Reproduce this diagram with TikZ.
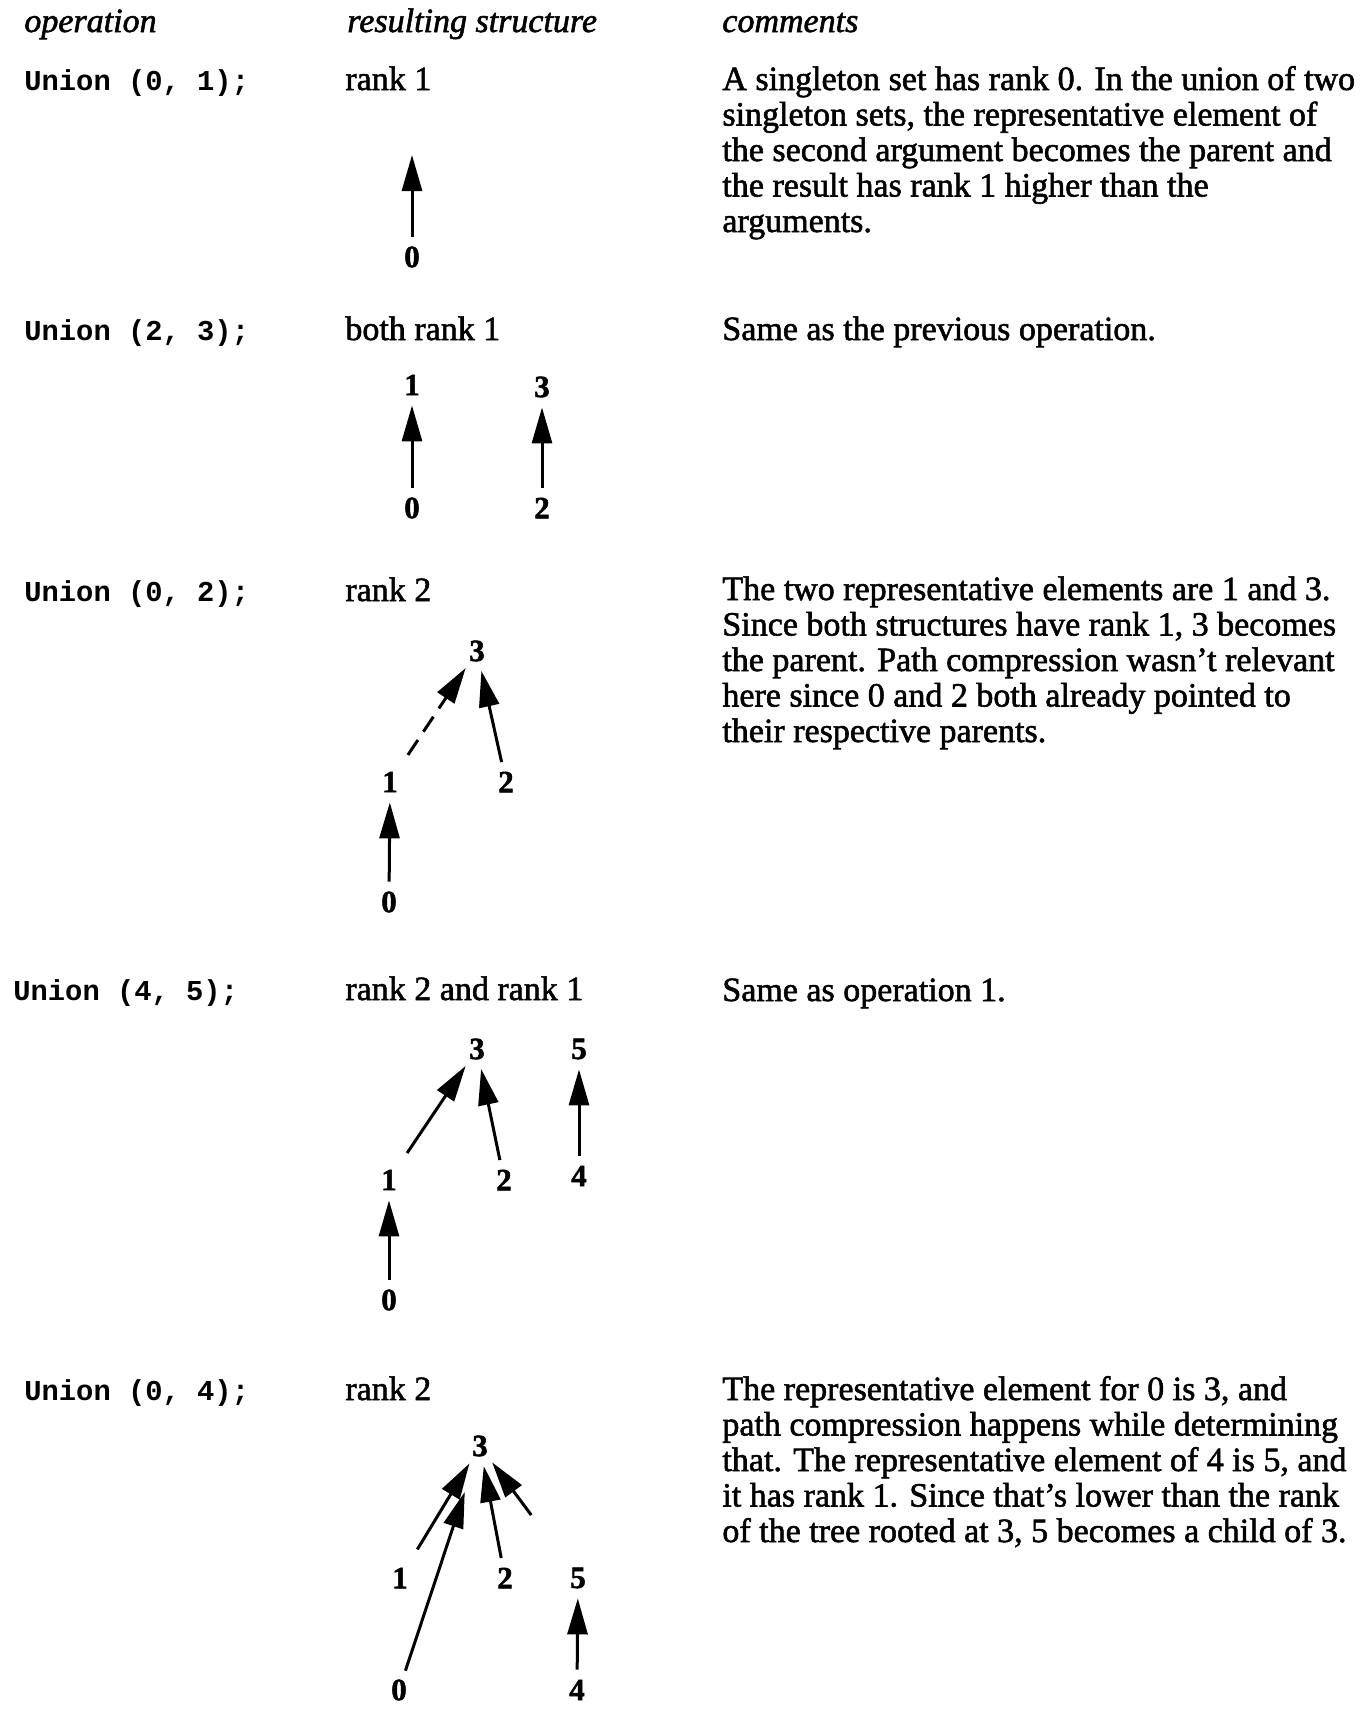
\documentclass[tikz,border=0pt]{standalone}
\usepackage{fontspec}
\usetikzlibrary{arrows.meta}
\setmainfont{Liberation Serif}[FakeBold=1.6]
\newfontfamily\codefont{Liberation Mono}

% a block of lines whose baseline is that of its first line
\newcommand\lines[1]{\begin{tabular}[t]{@{}l@{}}#1\end{tabular}}

\tikzset{
  lbl/.style={anchor=base west, inner sep=0pt, font=\fontsize{17}{17.75}\selectfont},
  hdr/.style={anchor=base west, inner sep=0pt, font=\fontsize{17}{17.75}\selectfont\itshape},
  code/.style={anchor=base west, inner sep=0pt, font=\codefont\bfseries\fontsize{14.4}{16}\selectfont},
  cmt/.style={anchor=base west, inner sep=0pt, font=\fontsize{17}{17.75}\selectfont},
  elem/.style={circle, minimum size=20pt, inner sep=0pt, font=\bfseries\fontsize{15.5}{15.5}\selectfont},
  ptr/.style={line width=1.5pt, -{Triangle[length=18pt,width=10pt]}},
  dptr/.style={ptr, dash pattern=on 9pt off 5pt},
}

\begin{document}
\begin{tikzpicture}[x=0.5pt, y=-0.5pt]
\useasboundingbox[fill=white] (0,0) rectangle (1371,1710);

% column headings
\node[hdr] (hop)  at (24,32)  {operation};
\node[hdr] (hres) at (347,32) {resulting structure};
\node[hdr] (hcom) at (722,32) {comments};

% operation 1
\node[code] (op1) at (24,90)  {Union (0, 1);};
\node[lbl]  (st1) at (345,90) {rank 1};
\node[cmt]  (cm1) at (722,90) {\lines{A singleton set has rank 0. In the union of two\\
singleton sets, the representative element of\\
the second argument becomes the parent and\\
the result has rank 1 higher than the\\
arguments.}};
\node[elem] (a0) at (412,257) {0};
\coordinate (a1) at (412,155);
\draw[ptr] (a0) -- (a1);

% operation 2
\node[code] (op2) at (24,340)  {Union (2, 3);};
\node[lbl]  (st2) at (345,340) {both rank 1};
\node[cmt]  (cm2) at (722,340) {Same as the previous operation.};
\node[elem] (b1) at (412,385) {1};
\node[elem] (b0) at (412,508) {0};
\node[elem] (b3) at (542,387) {3};
\node[elem] (b2) at (542,508) {2};
\draw[ptr] (b0) -- (b1);
\draw[ptr] (b2) -- (b3);

% operation 3
\node[code] (op3) at (24,601)  {Union (0, 2);};
\node[lbl]  (st3) at (345,601) {rank 2};
\node[cmt]  (cm3) at (722,600) {\lines{The two representative elements are 1 and 3.\\
Since both structures have rank 1, 3 becomes\\
the parent. Path compression wasn't relevant\\
here since 0 and 2 both already pointed to\\
their respective parents.}};
\node[elem] (c3) at (477,651) {3};
\node[elem] (c1) at (390,782) {1};
\node[elem] (c2) at (506,782) {2};
\node[elem] (c0) at (389,902) {0};
\draw[ptr] (c0) -- (c1);
\draw[dptr, shorten <=6pt] (c1) -- (c3);
\draw[ptr] (c2) -- (c3);

% operation 4
\node[code] (op4) at (13,1000)  {Union (4, 5);};
\node[lbl]  (st4) at (345,1000) {rank 2 and rank 1};
\node[cmt]  (cm4) at (722,1001) {Same as operation 1.};
\node[elem] (d3) at (477,1049) {3};
\node[elem] (d5) at (579,1049) {5};
\node[elem] (d1) at (389,1180) {1};
\node[elem] (d2) at (504,1180) {2};
\node[elem] (d4) at (579,1176) {4};
\node[elem] (d0) at (389,1300) {0};
\draw[ptr] (d0) -- (d1);
\draw[ptr, shorten <=6pt] (d1) -- (d3);
\draw[ptr] (d2) -- (d3);
\draw[ptr] (d4) -- (d5);

% operation 5
\node[code] (op5) at (24,1400)  {Union (0, 4);};
\node[lbl]  (st5) at (345,1400) {rank 2};
\node[cmt]  (cm5) at (722,1400) {\lines{The representative element for 0 is 3, and\\
path compression happens while determining\\
that. The representative element of 4 is 5, and\\
it has rank 1. Since that's lower than the rank\\
of the tree rooted at 3, 5 becomes a child of 3.}};
\node[elem] (e3) at (480,1446) {3};
\node[elem] (e1) at (400,1578) {1};
\node[elem] (e2) at (505,1578) {2};
\node[elem] (e5) at (578,1578) {5};
\node[elem] (e0) at (399,1690) {0};
\node[elem] (e4) at (577,1690) {4};
\draw[ptr, shorten <=6.5pt] (e1) -- (e3);
\draw[ptr, shorten >=14pt] (e0) -- (e3);
\draw[ptr] (e2) -- (e3);
\draw[ptr, shorten <=29pt] (e5) -- (e3);
\draw[ptr] (e4) -- (e5);
\end{tikzpicture}
\end{document}
